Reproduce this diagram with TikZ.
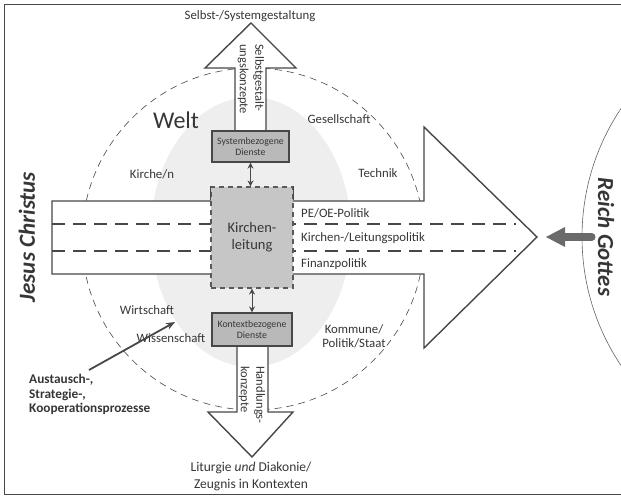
\documentclass[tikz,border=0pt]{standalone}
\usepackage{fontspec}
\setmainfont{Carlito}
\usetikzlibrary{arrows.meta}
\definecolor{lc}{HTML}{474747}
\definecolor{tc}{HTML}{363636}
\definecolor{ellfill}{HTML}{EEEEEE}
\definecolor{boxfill}{HTML}{B9B9B9}
\definecolor{klfill}{HTML}{C6C6C6}
\definecolor{gcol}{HTML}{6A6A6A}
\tikzset{
  arrowshape/.style={draw=lc, line width=1.4pt, fill=white, line join=miter},
  weltcircle/.style={draw=lc, line width=0.6pt, dash pattern=on 7pt off 5pt},
  lanes/.style={draw=lc, line width=1.3pt, dash pattern=on 13pt off 8pt},
  sbox/.style={draw=lc, line width=1.1pt, fill=boxfill, inner sep=0pt, align=center,
     text=tc, font=\fontsize{9.8}{11}\selectfont},
  klbox/.style={draw=lc!90, line width=1.1pt, fill=klfill, dash pattern=on 5pt off 4pt,
     inner sep=0pt, align=center, text=tc, font=\fontsize{14.5}{17}\selectfont},
  lbl/.style={text=tc, font=\fontsize{12.8}{14}\selectfont, inner sep=0pt},
  vlbl/.style={text=tc, font=\fontsize{12.5}{15.5}\selectfont, inner sep=0pt, rotate=-90, align=left},
  dbl/.style={draw=lc, line width=1pt, {Stealth[length=6pt,width=6pt]}-{Stealth[length=6pt,width=6pt]}},
}
\begin{document}
\begin{tikzpicture}[x=1pt,y=-1pt]
\useasboundingbox (0,0) rectangle (621,497);
% frame
\draw[lc, line width=0.9pt] (4,4) rectangle (640,494);
% light background ellipse
\fill[ellfill] (251,232) ellipse [x radius=100, y radius=135];
% Reich Gottes circle
\draw[lc!85, line width=0.6pt] (813,237) circle [radius=231];
% Welt circle
\draw[weltcircle] (253,239) circle [radius=171];
% big horizontal arrow
\draw[arrowshape] (52,201) -- (424,201) -- (424,127) -- (537,237) -- (424,348) -- (424,274) -- (52,274) -- cycle;
\draw[lanes] (52,224) -- (516,224);
\draw[lanes] (52,251) -- (516,251);
% up arrow
\draw[arrowshape] (235,135) -- (235,68) -- (205,68) -- (251,23) -- (296,68) -- (266,68) -- (266,135) -- cycle;
% down arrow
\draw[arrowshape] (237,342) -- (237,412) -- (208,412) -- (252,457) -- (293,412) -- (268,412) -- (268,342) -- cycle;
% boxes
\node[sbox, minimum width=77pt, minimum height=31pt] (sys) at (250.5,146.5) {Systembezogene\\Dienste};
\node[sbox, minimum width=80pt, minimum height=33pt] (ktx) at (252,329.5) {Kontextbezogene\\Dienste};
\node[klbox, minimum width=82pt, minimum height=101pt] (kl) at (252,237.5) {Kirchen-\\leitung};
\draw[lc, line width=1.3pt] (kl.north west) -- ++(0,14);
\draw[lc, line width=1.3pt] (kl.north east) -- ++(0,14);
% double arrows
\draw[dbl] (sys.south) -- (sys.south |- kl.north);
\draw[dbl] (ktx.north |- kl.south) -- (ktx.north);
% arrow texts
\node[vlbl, anchor=west] (vt1) at (251,44) {Selbstgestalt-\\ungskonzepte};
\node[vlbl, anchor=west] (vt2) at (252,366) {Handlungs-\\konzepte};
% labels
\node[lbl] (top) at (250,16) {Selbst-/Systemgestaltung};
\node[text=tc, font=\fontsize{24}{28}\selectfont, inner sep=0pt] (welt) at (176,120) {Welt};
\node[lbl] (ges) at (339,119) {Gesellschaft};
\node[lbl] (kir) at (152,174) {Kirche/n};
\node[lbl] (tec) at (378,173) {Technik};
\node[lbl, anchor=west] (pe) at (301,213) {PE/OE-Politik};
\node[lbl, anchor=west] (klp) at (301,238) {Kirchen-/Leitungspolitik};
\node[lbl, anchor=west] (fin) at (301,264) {Finanzpolitik};
\node[lbl] (wir) at (147,310) {Wirtschaft};
\node[lbl] (wis) at (171,338) {Wissenschaft};
\node[lbl, align=center] (kom) at (354,336) {Kommune/\\Politik/Staat};
\node[lbl, align=center, font=\fontsize{13.5}{17}\selectfont] (lit) at (251,476) {Liturgie \textit{und} Diakonie/\\Zeugnis in Kontexten};
\node[lbl, align=left, anchor=north west, font=\fontsize{13.3}{14.5}\selectfont\bfseries] (aus) at (29,374) {Austausch-,\\Strategie-,\\Kooperationsprozesse};
\coordinate (ausend) at (175,322);
\coordinate (ausstart) at (89,370);
\draw[lc, line width=1.8pt, -{Stealth[length=9pt,width=7pt]}] (ausstart) -- (ausend);
% side texts
\node[text=tc, rotate=90, font=\fontsize{23}{26}\selectfont\bfseries\itshape, inner sep=0pt] (jc) at (27,237) {Jesus Christus};
\node[text=tc, rotate=-90, font=\fontsize{23}{26}\selectfont\bfseries\itshape, inner sep=0pt] (rg) at (606,237) {Reich Gottes};
% gray arrow from Reich Gottes
\coordinate (rgstart) at (592,237);
\coordinate (rgshaft) at (560,237);
\coordinate (rgtip) at (546,237);
\draw[gcol, line width=7pt, line cap=round] (rgstart) -- (rgshaft);
\fill[gcol] (rgtip) -- (565,227) -- (565,247) -- cycle;
\end{tikzpicture}
\end{document}
